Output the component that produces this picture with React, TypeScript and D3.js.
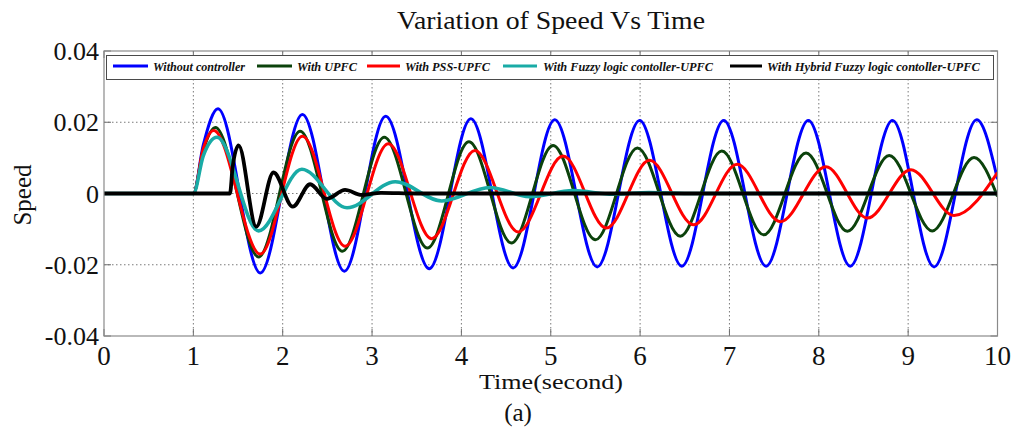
import React, { useEffect, useRef } from "react";
import * as d3 from "d3";

// Values (time in s, speed deviation)
const blueT = [0, 1, 1.11, 1.276, 1.749, 2.221, 2.69, 3.153, 3.64, 4.106, 4.579, 5.045, 5.52, 5.995, 6.467, 6.936, 7.41, 7.883, 8.352, 8.825, 9.29, 9.768, 10];
const blueV = [0, 0, 0.0135, 0.0238, -0.0223, 0.0222, -0.0218, 0.0217, -0.0211, 0.021, -0.0209, 0.0207, -0.0206, 0.0205, -0.0204, 0.0205, -0.0204, 0.0205, -0.0204, 0.0205, -0.0206, 0.0207, 0.004];

const greenT = [0, 1, 1.11, 1.246, 1.73, 2.195, 2.668, 3.137, 3.62, 4.084, 4.56, 5.026, 5.5, 5.97, 6.45, 6.914, 7.383, 7.857, 8.32, 8.788, 9.27, 9.737, 10];
const greenV = [0, 0, 0.012, 0.0185, -0.0178, 0.0175, -0.0162, 0.0158, -0.0153, 0.0145, -0.0139, 0.0135, -0.013, 0.0128, -0.012, 0.0119, -0.0116, 0.0114, -0.0106, 0.0107, -0.0105, 0.0101, -0.0008];

const redT = [0, 1, 1.11, 1.227, 1.749, 2.221, 2.698, 3.182, 3.667, 4.151, 4.635, 5.138, 5.622, 6.106, 6.6, 7.086, 7.57, 8.08, 8.545, 9.03, 9.514, 10];
const redV = [0, 0, 0.0125, 0.0177, -0.017, 0.0161, -0.0148, 0.014, -0.0127, 0.0121, -0.0108, 0.0105, -0.0097, 0.0093, -0.0088, 0.0082, -0.0079, 0.0075, -0.0069, 0.0067, -0.0062, 0.0059];

const cyanT = [0, 1, 1.11, 1.265, 1.73, 2.214, 2.72, 3.26, 3.78, 4.318, 4.765, 5.25, 5.7, 6.1, 6.6, 10];
const cyanV = [0, 0, 0.0105, 0.0158, -0.0105, 0.0068, -0.004, 0.0033, -0.0021, 0.0017, -0.0009, 0.0008, -0.0002, 0.0003, 0, 0];

const blackT = [0, 1.41, 1.44, 1.506, 1.704, 1.897, 2.113, 2.307, 2.494, 2.698, 2.885, 3.1, 3.5, 10];
const blackV = [0, 0, 0.0075, 0.0135, -0.0093, 0.0059, -0.0037, 0.0026, -0.0015, 0.001, -0.0004, 0.0002, 0, 0];

const legendLabels = [
  "Without controller",
  "With UPFC",
  "With PSS-UPFC",
  "With Fuzzy logic contoller-UPFC",
  "With Hybrid Fuzzy logic contoller-UPFC",
];
const seriesColors = ["#0000ff", "#0b420b", "#ff0000", "#19aba6", "#000000"];
const seriesWidths = [3, 3, 3, 3.6, 3.8];

const xTicks = [0, 1, 2, 3, 4, 5, 6, 7, 8, 9, 10];
const yTicks = [-0.04, -0.02, 0, 0.02, 0.04];
const yTickLabels = ["-0.04", "-0.02", "0", "0.02", "0.04"];

const App = () => {
  const svgRef = useRef<SVGSVGElement>(null);

  useEffect(() => {
    const svg = d3.select(svgRef.current);
    svg.selectAll("*").remove();

    const left = 104, right = 997.5, top = 51, bottom = 336;
    const x = d3.scaleLinear().domain([0, 10]).range([left, right]);
    const y = d3.scaleLinear().domain([-0.04, 0.04]).range([bottom, top]);
    const serif = '"Liberation Serif", "Times New Roman", Times, serif';

    svg.append("rect").attr("width", 1021).attr("height", 434).attr("fill", "#fff");

    // dotted grid
    const grid = svg.append("g");
    grid.selectAll(".gx")
      .data(xTicks.slice(1, -1))
      .enter()
      .append("line")
      .attr("x1", (d) => x(d)).attr("x2", (d) => x(d))
      .attr("y1", top).attr("y2", bottom)
      .attr("stroke", "#7a7a7a").attr("stroke-width", 1)
      .attr("stroke-dasharray", "1.5,2.5");
    grid.selectAll(".gy")
      .data(yTicks.slice(1, -1))
      .enter()
      .append("line")
      .attr("x1", left).attr("x2", right)
      .attr("y1", (d) => y(d)).attr("y2", (d) => y(d))
      .attr("stroke", "#7a7a7a").attr("stroke-width", 1)
      .attr("stroke-dasharray", "1.5,2.5");

    // inward tick marks on all four sides
    const tl = 7;
    const ticks = svg.append("g").attr("stroke", "#6e6e6e").attr("stroke-width", 1);
    xTicks.forEach((t) => {
      ticks.append("line").attr("x1", x(t)).attr("x2", x(t)).attr("y1", bottom).attr("y2", bottom - tl);
      ticks.append("line").attr("x1", x(t)).attr("x2", x(t)).attr("y1", top).attr("y2", top + tl);
    });
    yTicks.forEach((v) => {
      ticks.append("line").attr("x1", left).attr("x2", left + tl).attr("y1", y(v)).attr("y2", y(v));
      ticks.append("line").attr("x1", right).attr("x2", right - tl).attr("y1", y(v)).attr("y2", y(v));
    });

    // curves
    svg.append("clipPath").attr("id", "plot-clip")
      .append("rect").attr("x", left).attr("y", top).attr("width", right - left).attr("height", bottom - top);

    const series = [
      { t: blueT, v: blueV },
      { t: greenT, v: greenV },
      { t: redT, v: redV },
      { t: cyanT, v: cyanV },
      { t: blackT, v: blackV },
    ];
    const line = d3.line<[number, number]>()
      .x((d) => x(d[0]))
      .y((d) => y(d[1]))
      .curve(d3.curveMonotoneX);

    const plot = svg.append("g").attr("clip-path", "url(#plot-clip)");
    series.forEach((s, i) => {
      const pts = s.t.map((t, k) => [t, s.v[k]] as [number, number]);
      plot.append("path")
        .attr("d", line(pts))
        .attr("fill", "none")
        .attr("stroke", seriesColors[i])
        .attr("stroke-width", seriesWidths[i])
        .attr("stroke-linejoin", "round");
    });

    // frame
    svg.append("rect")
      .attr("x", left).attr("y", top)
      .attr("width", right - left).attr("height", bottom - top)
      .attr("fill", "none").attr("stroke", "#8a8a8a").attr("stroke-width", 1.2);

    // legend
    const lineX1 = [113, 257, 367, 503, 730];
    const lineX2 = [148, 292, 400, 537, 762];
    const textX = [153, 297, 405, 543, 767];
    const textW = [92, 60, 85, 170, 213];
    const lg = svg.append("g");
    lg.append("rect")
      .attr("x", 106.5).attr("y", 55.5).attr("width", 887).attr("height", 24)
      .attr("fill", "#fff").attr("stroke", "#4a4a4a").attr("stroke-width", 1);
    legendLabels.forEach((label, i) => {
      lg.append("line")
        .attr("x1", lineX1[i]).attr("x2", lineX2[i])
        .attr("y1", 66).attr("y2", 66)
        .attr("stroke", seriesColors[i]).attr("stroke-width", 3);
      lg.append("text")
        .attr("x", textX[i]).attr("y", 70.5)
        .style("font-family", serif).style("font-size", "12px")
        .style("font-weight", "bold").style("font-style", "italic")
        .attr("fill", "#111")
        .attr("textLength", textW[i]).attr("lengthAdjust", "spacingAndGlyphs")
        .text(label);
    });

    // tick labels
    svg.append("g").selectAll("text")
      .data(xTicks)
      .enter()
      .append("text")
      .attr("x", (d) => x(d)).attr("y", 365)
      .attr("text-anchor", "middle")
      .style("font-family", serif).style("font-size", "27px")
      .attr("fill", "#111")
      .text((d) => String(d));

    svg.append("g").selectAll("text")
      .data(yTicks)
      .enter()
      .append("text")
      .attr("x", 99).attr("y", (d) => y(d))
      .attr("dy", "0.35em")
      .attr("text-anchor", "end")
      .style("font-family", serif).style("font-size", "26px")
      .attr("fill", "#111")
      .text((d, i) => yTickLabels[i]);

    // titles
    svg.append("text")
      .attr("x", 551).attr("y", 29)
      .attr("text-anchor", "middle")
      .style("font-family", serif).style("font-size", "26px")
      .attr("fill", "#111")
      .attr("textLength", 308).attr("lengthAdjust", "spacingAndGlyphs")
      .text("Variation of Speed Vs Time");

    svg.append("text")
      .attr("x", 551).attr("y", 389)
      .attr("text-anchor", "middle")
      .style("font-family", serif).style("font-size", "22px")
      .attr("fill", "#111")
      .attr("textLength", 144).attr("lengthAdjust", "spacingAndGlyphs")
      .text("Time(second)");

    svg.append("text")
      .attr("x", 518).attr("y", 421)
      .attr("text-anchor", "middle")
      .style("font-family", serif).style("font-size", "25px")
      .attr("fill", "#111")
      .text("(a)");

    svg.append("text")
      .attr("transform", "translate(31,195) rotate(-90)")
      .attr("text-anchor", "middle")
      .style("font-family", serif).style("font-size", "25px")
      .attr("fill", "#111")
      .text("Speed");
  }, []);

  return (
    <svg
      ref={svgRef}
      width={1021}
      height={434}
      style={{ position: "absolute", left: 0, top: 0, display: "block" }}
    />
  );
};

export default App;
